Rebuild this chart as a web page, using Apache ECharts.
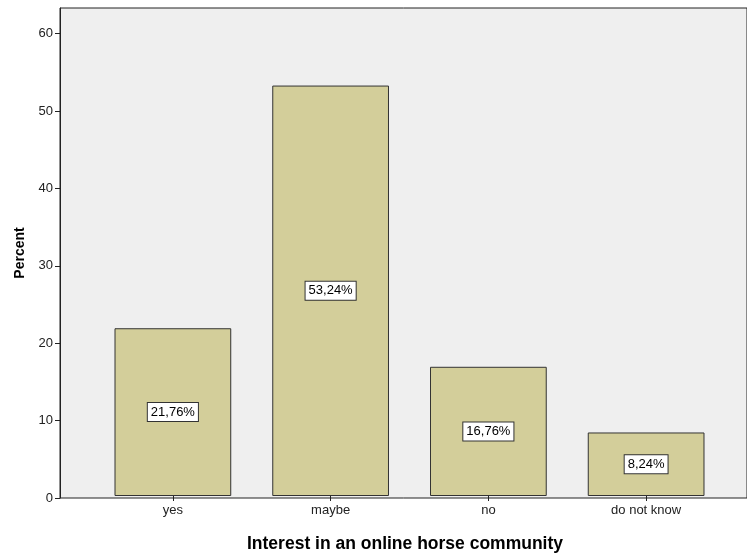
<!DOCTYPE html>
<html><head><meta charset="utf-8">
<script src="https://cdn.jsdelivr.net/npm/echarts@6/dist/echarts.min.js"></script>
<style>html,body{margin:0;padding:0;background:#fff}#c{width:747px;height:558px}</style>
</head><body><div id="c"></div>
<script>
const categories = ['yes', 'maybe', 'no', 'do not know'];
const percents = [21.76, 53.24, 16.76, 8.24];
const yTicks = [0, 10, 20, 30, 40, 50, 60];

const chart = echarts.init(document.getElementById('c'));
const font = 'Liberation Sans, Arial, sans-serif';
chart.setOption({
  animation: false,
  grid: [
    {left: 60, top: 8, right: -3, bottom: 60, show: true, backgroundColor: '#efefef', borderColor: '#222', borderWidth: 1},
    {left: 94, top: 8, right: 22, bottom: 60}
  ],
  xAxis: [
    {gridIndex: 0, type: 'value', min: 0, max: 1, show: false},
    {gridIndex: 1, type: 'category', data: categories,
     name: 'Interest in an online horse community', nameLocation: 'middle', nameGap: 39,
     nameTextStyle: {fontFamily: font, fontWeight: 'bold', fontSize: 17.5, color: '#000', padding: [0, 0, 0, -9]},
     axisLine: {show: false},
     axisTick: {show: true, alignWithLabel: true, length: 5, lineStyle: {color: '#222', width: 1}},
     axisLabel: {fontFamily: font, fontSize: 13, color: '#222', margin: 8}}
  ],
  yAxis: [
    {gridIndex: 0, type: 'value', min: 0, max: 63.3, interval: 10,
     name: 'Percent', nameLocation: 'middle', nameGap: 33,
     nameTextStyle: {fontFamily: font, fontWeight: 'bold', fontSize: 14, color: '#000'},
     axisLine: {show: true, lineStyle: {color: '#222', width: 1}},
     axisTick: {show: true, length: 5, lineStyle: {color: '#222', width: 1}},
     axisLabel: {fontFamily: font, fontSize: 13, color: '#222', margin: 7, showMaxLabel: false,
       formatter: v => yTicks.includes(v) ? String(v) : ''},
     splitLine: {show: false}},
    {gridIndex: 1, type: 'value', min: 0, max: 63.3, show: false}
  ],
  series: [{
    type: 'bar', xAxisIndex: 1, yAxisIndex: 1, data: percents,
    barCategoryGap: '26%',
    itemStyle: {color: '#d3ce9a', borderColor: '#333', borderWidth: 1},
    label: {show: true, position: 'inside', fontFamily: font, fontSize: 13, color: '#000',
      backgroundColor: '#fff', borderColor: '#333', borderWidth: 1, padding: [3, 3, 2, 3],
      formatter: p => p.value.toFixed(2).replace('.', ',') + '%'}
  }]
});
</script></body></html>
